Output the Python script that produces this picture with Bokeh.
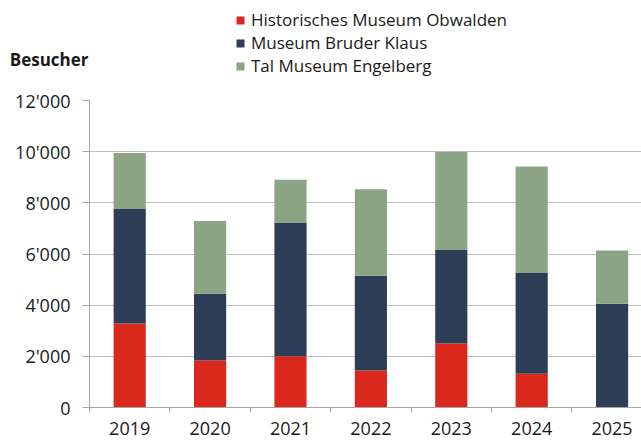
from bokeh.plotting import figure
from bokeh.layouts import column
from bokeh.models import ColumnDataSource, Range1d, FixedTicker, Legend, LegendItem
from bokeh.embed import file_html
from bokeh.resources import INLINE

years = ["2019", "2020", "2021", "2022", "2023", "2024", "2025"]
historisches = [3280, 1840, 2000, 1450, 2500, 1320, 0]
bruder_klaus = [4500, 2610, 5230, 3700, 3680, 3960, 4060]
tal_museum = [2170, 2840, 1670, 3380, 3810, 4140, 2080]
series_names = ["Historisches Museum Obwalden", "Museum Bruder Klaus", "Tal Museum Engelberg"]
y_ticks = [0, 2000, 4000, 6000, 8000, 10000, 12000]
y_tick_labels = ["0", "2'000", "4'000", "6'000", "8'000", "10'000", "12'000"]
y_title = "Besucher"

colors = ["#DA291C", "#2C3D55", "#8BA584"]
FONT = "Open Sans"
TEXT = "#1A1A1A"
GREY = "#A6A6A6"

W = 641
HEAD_H = 85
MAIN_H = 355

# ---------- main chart ----------
idx = list(range(len(years)))
src = ColumnDataSource(dict(x=idx, h=historisches, b=bruder_klaus, t=tal_museum))

p = figure(width=W, height=MAIN_H, output_backend="svg", toolbar_location=None,
           x_range=Range1d(-0.5, 6.366), y_range=Range1d(0, 12000),
           min_border_left=89, min_border_right=0, min_border_top=15, min_border_bottom=33)
p.outline_line_color = None

bars = p.vbar_stack(["h", "b", "t"], x="x", width=0.4, source=src, color=colors, line_color=None)

p.xgrid.grid_line_color = None
p.ygrid.grid_line_color = "#BFBFBF"
p.ygrid.ticker = FixedTicker(ticks=y_ticks)

p.yaxis.ticker = FixedTicker(ticks=y_ticks)
p.yaxis.major_label_overrides = {t: l for t, l in zip(y_ticks, y_tick_labels)}
p.yaxis.axis_line_color = GREY
p.yaxis.major_tick_line_color = GREY
p.yaxis.major_tick_out = 7
p.yaxis.major_tick_in = 0
p.yaxis.minor_tick_line_color = None
p.yaxis.major_label_text_font = FONT
p.yaxis.major_label_text_font_size = "18px"
p.yaxis.major_label_text_color = TEXT
p.yaxis.major_label_standoff = 12

bounds = [i - 0.5 for i in range(len(years) + 1)]
p.xaxis.ticker = FixedTicker(ticks=idx, minor_ticks=bounds)
p.xaxis.major_label_overrides = {i: y for i, y in zip(idx, years)}
p.xaxis.axis_line_color = GREY
p.xaxis.major_tick_line_color = None
p.xaxis.major_tick_out = 5
p.xaxis.minor_tick_line_color = GREY
p.xaxis.minor_tick_out = 5
p.xaxis.minor_tick_in = 0
p.xaxis.major_label_text_font = FONT
p.xaxis.major_label_text_font_size = "18px"
p.xaxis.major_label_text_color = TEXT
p.xaxis.major_label_standoff = 9

# ---------- header (title + legend) ----------
h = figure(width=W, height=HEAD_H, output_backend="svg", toolbar_location=None,
           x_range=Range1d(0, W - 89), y_range=Range1d(0, HEAD_H),
           min_border_left=0, min_border_right=0, min_border_top=0, min_border_bottom=0)
h.outline_line_color = None
h.xaxis.visible = False
h.grid.visible = False

# "Besucher" as the single label of the header's left axis
title_pos = HEAD_H - 59
h.yaxis.ticker = FixedTicker(ticks=[title_pos])
h.yaxis.major_label_overrides = {title_pos: y_title}
h.yaxis.axis_line_color = None
h.yaxis.major_tick_line_color = None
h.yaxis.minor_tick_line_color = None
h.yaxis.major_tick_out = 0
h.yaxis.major_tick_in = 0
h.yaxis.major_label_standoff = 1
h.yaxis.major_label_text_font = FONT
h.yaxis.major_label_text_font_style = "bold"
h.yaxis.major_label_text_font_size = "17px"
h.yaxis.major_label_text_color = TEXT

# legend swatches: zero-size bars (nothing visible in the header itself)
dummies = [h.vbar(x=[0], top=[0], bottom=[0], width=0, fill_color=c, line_color=None)
           for c in colors]
items = [LegendItem(label=n, renderers=[r]) for n, r in zip(series_names, dummies)]
legend = Legend(items=items, location=(235 - 89, 8), orientation="vertical")
legend.padding = 0
legend.margin = 0
legend.spacing = -2
legend.border_line_color = None
legend.background_fill_alpha = 0
legend.glyph_width = 10
legend.glyph_height = 10
legend.label_standoff = 6
legend.label_height = 22
legend.label_text_font = FONT
legend.label_text_font_size = "17px"
legend.label_text_color = TEXT
h.add_layout(legend, "center")

layout = column(h, p, spacing=0)
open("out.html", "w").write(file_html(layout, INLINE))
